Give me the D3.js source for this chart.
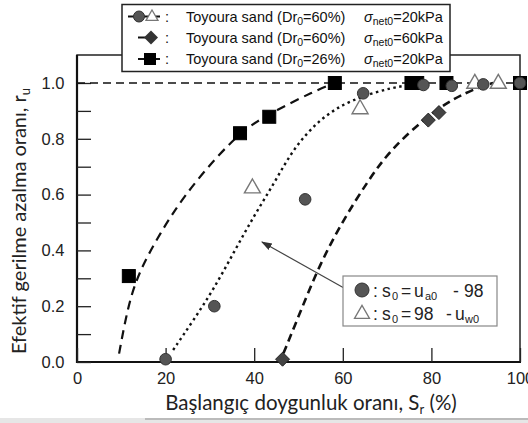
<!DOCTYPE html>
<html><head><meta charset="utf-8">
<script src="https://cdn.jsdelivr.net/npm/d3@7"></script>
<style>body{margin:0;background:#fff}svg{display:block}</style>
</head><body><svg id="c" width="528" height="423"></svg>
<script>
// ---- data ----
const xTicks = [0, 20, 40, 60, 80, 100];
const yTicks = [0, 0.2, 0.4, 0.6, 0.8, 1.0];
const yMinorTicks = [0.1, 0.3, 0.5, 0.7, 0.9];
// Toyoura sand Dr0=26%, 20kPa (squares)
const sqSr = [11.7, 36.8, 43.4, 58.2, 75.5, 76.8, 83.4, 100];
const sqRu = [0.308, 0.82, 0.879, 1.0, 1.0, 1.0, 1.0, 1.0];
// Dr0=60%, 20kPa, circles (s0 = ua0 - 98)
const ciSr = [20, 31.0, 51.5, 64.6, 78.2, 84.6, 91.7, 100];
const ciRu = [0.01, 0.20, 0.583, 0.963, 0.993, 0.99, 0.995, 1.0];
// Dr0=60%, 20kPa, triangles (s0 = 98 - uw0)
const trSr = [39.6, 63.9, 89.8, 95.1];
const trRu = [0.625, 0.909, 1.0, 1.0];
// Dr0=60%, 60kPa, diamonds
const diSr = [46.4, 79.3, 81.7];
const diRu = [0.01, 0.867, 0.894];
// fitted curves
const fitSqSr = [9.5, 11.6, 14.2, 18.7, 23.9, 31.5, 38.3, 45.1, 53.3, 58.2];
const fitSqRu = [0.03, 0.21, 0.33, 0.46, 0.59, 0.736, 0.843, 0.903, 0.969, 1.0];
const fitCiSr = [21.7, 26.3, 30.8, 35.3, 39.8, 44.5, 48.8, 54.9, 61.6, 71.4, 78.9];
const fitCiRu = [0.043, 0.15, 0.26, 0.39, 0.52, 0.64, 0.765, 0.873, 0.939, 0.987, 1.0];
const fitDiSr = [46.6, 50.3, 54.9, 60.1, 65.8, 70.7, 78.9, 85, 91, 94];
const fitDiRu = [0.031, 0.175, 0.354, 0.509, 0.652, 0.76, 0.879, 0.945, 0.987, 1.0];
const refLine = [1.0];
const legendDr = ["=60%)", "=60%)", "=26%)"];
const legendSigma = ["=20kPa", "=60kPa", "=20kPa"];
const xTitle = "Başlangıç doygunluk oranı, S";
const yTitle = "Efektif gerilme azalma oranı, r";

// ---- layout ----
const svg = d3.select("#c");
const L = 77, R = 520, B = 362, T = 55;
const x = d3.scaleLinear().domain([0, 100]).range([L, R]);
const y = d3.scaleLinear().domain([0, 1.1]).range([B, B - 1.1 * 279]);
const AF = "Liberation Sans, Arial, sans-serif";
const CF = "Lato, 'Open Sans', sans-serif";

// frame
svg.append("rect").attr("x", L).attr("y", T).attr("width", R - L).attr("height", B - T)
  .attr("fill", "none").attr("stroke", "#222").attr("stroke-width", 1.5);
svg.append("line").attr("x1", L).attr("x2", L).attr("y1", T).attr("y2", B + 1).attr("stroke", "#111").attr("stroke-width", 2.2);
svg.append("line").attr("x1", L - 1).attr("x2", R + 1).attr("y1", B).attr("y2", B).attr("stroke", "#111").attr("stroke-width", 2.2);

// axes
const yAx = svg.append("g").attr("transform", `translate(${L},0)`)
  .call(d3.axisLeft(y).tickValues(yTicks).tickFormat(d3.format(".1f")).tickSizeInner(-14).tickSizeOuter(0).tickPadding(10));
yAx.select(".domain").remove();
yAx.selectAll("line").attr("stroke", "#222").attr("stroke-width", 1.3);
yAx.selectAll("text").attr("font-family", AF).attr("font-size", 16.5).attr("fill", "#222").attr("dx", "-0.15em");
const yAx2 = svg.append("g").attr("transform", `translate(${L},0)`)
  .call(d3.axisLeft(y).tickValues(yMinorTicks).tickFormat("").tickSizeInner(-14).tickSizeOuter(0));
yAx2.select(".domain").remove();
yAx2.selectAll("line").attr("stroke", "#222").attr("stroke-width", 1.3);

const xAx = svg.append("g").attr("transform", `translate(0,${B})`)
  .call(d3.axisBottom(x).tickValues(xTicks).tickFormat(d3.format("d")).tickSizeInner(-14).tickSizeOuter(0).tickPadding(6));
xAx.select(".domain").remove();
xAx.selectAll("line").attr("stroke", "#222").attr("stroke-width", 1.3);
xAx.selectAll("text").attr("font-family", AF).attr("font-size", 16.5).attr("fill", "#222").attr("dy", "0.95em");

// reference line
svg.append("g").selectAll("line").data(refLine).join("line")
  .attr("x1", x(0)).attr("x2", x(100)).attr("y1", d => y(d)).attr("y2", d => y(d))
  .attr("stroke", "#111").attr("stroke-width", 1.6).attr("stroke-dasharray", "8,5");

// curves
const line = d3.line().x(d => x(d[0])).y(d => y(d[1])).curve(d3.curveBasis);
function curve(xs, ys, dash, w) {
  svg.append("path").datum(xs.map((v, i) => [v, ys[i]])).attr("d", line)
    .attr("fill", "none").attr("stroke", "#111").attr("stroke-width", w).attr("stroke-dasharray", dash);
}
curve(fitSqSr, fitSqRu, "9,6", 2.2);
curve(fitCiSr, fitCiRu, "2.5,3.5", 2.4);
curve(fitDiSr, fitDiRu, "8,5", 2.6);

// markers
function tri(cx, cy, s) { const h = s * 0.87; return `M${cx},${cy - h * 0.62}L${cx + s / 2},${cy + h * 0.38}L${cx - s / 2},${cy + h * 0.38}Z`; }
svg.append("g").selectAll("path").data(trSr.map((v, i) => [v, trRu[i]])).join("path")
  .attr("d", d => tri(x(d[0]), y(d[1]), 16)).attr("fill", "#fff").attr("stroke", "#777").attr("stroke-width", 1.4);
svg.append("g").selectAll("path").data(diSr.map((v, i) => [v, diRu[i]])).join("path")
  .attr("d", d => { const cx = x(d[0]), cy = y(d[1]), r = 7; return `M${cx},${cy - r}L${cx + r},${cy}L${cx},${cy + r}L${cx - r},${cy}Z`; })
  .attr("fill", "#444").attr("stroke", "#222").attr("stroke-width", 1);
svg.append("g").selectAll("rect").data(sqSr.map((v, i) => [v, sqRu[i]])).join("rect")
  .attr("x", d => x(d[0]) - 6.5).attr("y", d => y(d[1]) - 6.5).attr("width", 13).attr("height", 13)
  .attr("fill", "#000").attr("stroke", "#000");
svg.append("g").selectAll("circle").data(ciSr.map((v, i) => [v, ciRu[i]])).join("circle")
  .attr("cx", d => x(d[0])).attr("cy", d => y(d[1])).attr("r", 5.8)
  .attr("fill", "#555").attr("stroke", "#333").attr("stroke-width", 1);

// top legend
const lg = svg.append("g");
lg.append("rect").attr("x", 122).attr("y", 4.5).attr("width", 328).attr("height", 67)
  .attr("fill", "#fff").attr("stroke", "#222").attr("stroke-width", 1.5);
const rowsY = [16.5, 37.5, 59];
lg.append("line").attr("x1", 128).attr("x2", 160).attr("y1", rowsY[0]).attr("y2", rowsY[0]).attr("stroke", "#111").attr("stroke-width", 2);
lg.append("circle").attr("cx", 139).attr("cy", rowsY[0]).attr("r", 5.5).attr("fill", "#555").attr("stroke", "#333");
lg.append("path").attr("d", tri(152, rowsY[0], 12)).attr("fill", "#fff").attr("stroke", "#777").attr("stroke-width", 1.3);
lg.append("line").attr("x1", 138).attr("x2", 152).attr("y1", rowsY[1]).attr("y2", rowsY[1]).attr("stroke", "#111").attr("stroke-width", 2);
lg.append("path").attr("d", `M151,${rowsY[1] - 7}L158,${rowsY[1]}L151,${rowsY[1] + 7}L144,${rowsY[1]}Z`).attr("fill", "#333");
lg.append("line").attr("x1", 138).attr("x2", 160).attr("y1", rowsY[2]).attr("y2", rowsY[2]).attr("stroke", "#111").attr("stroke-width", 2);
lg.append("rect").attr("x", 144).attr("y", rowsY[2] - 6).attr("width", 12).attr("height", 12).attr("fill", "#000");
rowsY.forEach((ry, i) => {
  lg.append("text").attr("x", 165).attr("y", ry + 5).attr("font-family", AF).attr("font-size", 14.5).attr("fill", "#111").text(":");
  const t = lg.append("text").attr("x", 186).attr("y", ry + 5).attr("font-family", AF).attr("font-size", 14.5).attr("fill", "#111");
  t.append("tspan").text("Toyoura sand (Dr");
  t.append("tspan").attr("font-size", 10.5).attr("dy", 3).text("0");
  t.append("tspan").attr("dy", -3).text(legendDr[i]);
  const s = lg.append("text").attr("x", 364).attr("y", ry + 5).attr("font-family", AF).attr("font-size", 14.5).attr("fill", "#111");
  s.append("tspan").attr("font-style", "italic").text("σ");
  s.append("tspan").attr("font-size", 10.5).attr("dy", 3).text("net0");
  s.append("tspan").attr("dy", -3).text(legendSigma[i]);
});

// inset legend + arrow
svg.append("defs").append("marker").attr("id", "ah").attr("viewBox", "0 0 10 10").attr("refX", 9).attr("refY", 5)
  .attr("markerWidth", 9).attr("markerHeight", 9).attr("orient", "auto")
  .append("path").attr("d", "M0,1.5L10,5L0,8.5Z").attr("fill", "#333");
svg.append("line").attr("x1", 344).attr("y1", 288).attr("x2", 262).attr("y2", 242)
  .attr("stroke", "#444").attr("stroke-width", 1.2).attr("marker-end", "url(#ah)");
const ib = svg.append("g");
ib.append("rect").attr("x", 343).attr("y", 276).attr("width", 154).attr("height", 50)
  .attr("fill", "#fff").attr("stroke", "#888").attr("stroke-width", 1.2);
ib.append("circle").attr("cx", 362).attr("cy", 290).attr("r", 7).attr("fill", "#555").attr("stroke", "#333");
ib.append("path").attr("d", tri(362, 313.5, 15)).attr("fill", "#fff").attr("stroke", "#777").attr("stroke-width", 1.3);
function piece(xx, yy, txt, size) {
  ib.append("text").attr("x", xx).attr("y", yy).attr("font-family", AF).attr("font-size", size || 17.5).attr("fill", "#222").text(txt);
}
// row 1
piece(373, 296.5, ":");
piece(382, 296.5, "s");
piece(392, 299.5, "0", 11);
piece(401, 296.5, "=");
piece(414, 296.5, "u");
piece(425, 299.5, "a0", 11);
piece(453, 296.5, "-");
piece(464, 296.5, "98");
// row 2
piece(373, 319.5, ":");
piece(382, 319.5, "s");
piece(392, 322.5, "0", 11);
piece(401, 319.5, "=");
piece(414, 319.5, "98");
piece(446, 319.5, "-");
piece(455, 319.5, "u");
piece(465, 322.5, "w0", 11);

// axis titles
const xt = svg.append("text").attr("x", 311).attr("y", 410).attr("text-anchor", "middle")
  .attr("font-family", CF).attr("font-size", 20.5).attr("fill", "#222");
xt.append("tspan").text(xTitle);
xt.append("tspan").attr("font-size", 13).attr("dy", 4).text("r");
xt.append("tspan").attr("dy", -4).text(" (%)");
const yt = svg.append("text").attr("transform", "translate(26,221) rotate(-90)").attr("text-anchor", "middle")
  .attr("font-family", CF).attr("font-size", 20).attr("fill", "#222");
yt.append("tspan").text(yTitle);
yt.append("tspan").attr("font-size", 13).attr("dy", 4).text("u");

// bottom gray strip
svg.append("rect").attr("x", 0).attr("y", 418).attr("width", 528).attr("height", 5).attr("fill", "#e6e6e6");
svg.append("rect").attr("x", 145).attr("y", 418).attr("width", 383).attr("height", 2).attr("fill", "#bbb");
</script></body></html>
